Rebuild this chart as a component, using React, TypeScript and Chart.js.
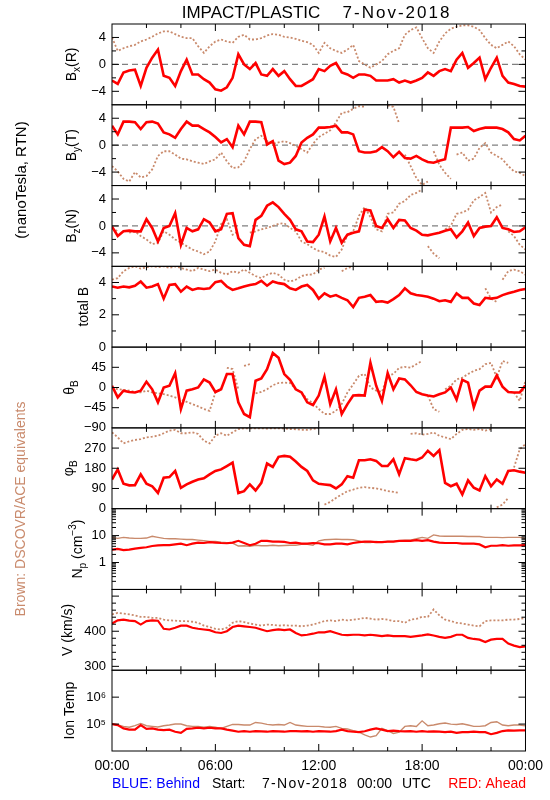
import React, { useEffect, useRef } from 'react';
import { Chart, registerables } from 'chart.js';

Chart.register(...registerables);

// ---------- time axis (20-minute samples) ----------
const TIMES = ["00:00","00:20","00:40","01:00","01:20","01:40","02:00","02:20","02:40","03:00","03:20","03:40","04:00","04:20","04:40","05:00","05:20","05:40","06:00","06:20","06:40","07:00","07:20","07:40","08:00","08:20","08:40","09:00","09:20","09:40","10:00","10:20","10:40","11:00","11:20","11:40","12:00","12:20","12:40","13:00","13:20","13:40","14:00","14:20","14:40","15:00","15:20","15:40","16:00","16:20","16:40","17:00","17:20","17:40","18:00","18:20","18:40","19:00","19:20","19:40","20:00","20:20","20:40","21:00","21:20","21:40","22:00","22:20","22:40","23:00","23:20","23:40","24:00"];

const X_TICKS = [0, 2, 4, 6, 8, 10, 12, 14, 16, 18, 20, 22, 24];
const X_LABEL_HOURS = [0, 6, 12, 18, 24];
const X_LABEL_TEXT = ["00:00", "06:00", "12:00", "18:00", "00:00"];

// ---------- series: RED = Ahead, BROWN = DSCOVR/ACE ----------
const BX_AHEAD = [-2.4,-2.9,-1.2,-0.9,-0.8,-3.2,-0.5,1.0,2.2,-1.7, -2.0,-3.2,-1.0,0.7,-1.5,-1.5,-2.2,-2.7,-3.7,-3.9, -3.4,-2.0,1.5,0.0,-0.7,0.2,-1.5,-1.7,-0.7,-1.7, -1.0,-2.2,-3.2,-3.2,-2.7,-2.2,-0.7,-1.0,-0.2,0.2, -1.2,-1.5,-2.0,-1.5,-1.5,-1.7,-2.4,-2.4,-2.4,-2.2, -2.7,-2.4,-2.7,-2.4,-2.0,-1.2,-1.7,-1.0,-0.7,-1.0, 0.7,1.7,-0.5,0.2,1.0,-2.2,-0.5,1.0,-1.7,-2.7, -2.9,-3.2,-3.3];
const BX_DSCOVR = [4.0,2.0,2.4,2.7,2.9,3.4,3.7,4.1,4.6,4.9, 4.9,4.5,4.1,3.9,3.9,2.7,1.7,2.7,3.4,3.7, 3.4,3.2,4.1,4.4,3.7,3.7,3.9,4.3,4.5,4.4, 4.1,4.0,3.8,3.5,3.3,2.9,1.7,3.2,2.4,2.0, 1.7,2.2,2.9,0.5,0.0,-0.5,0.0,0.5,1.5,2.0, 2.4,4.4,5.1,5.5,3.9,2.4,1.7,3.4,4.6,5.3, 5.6,5.8,5.8,5.6,5.1,3.9,2.9,2.4,2.9,3.4, 2.7,1.5,0.7];

const BY_AHEAD = [2.9,1.6,3.5,3.5,3.4,2.4,3.4,3.5,3.2,1.9, 1.6,1.1,2.4,3.5,2.9,2.9,2.4,1.9,1.2,0.4, 0.9,-0.3,2.9,1.6,3.5,3.5,3.4,0.1,0.6,-2.3, -2.8,-2.6,-1.6,0.4,1.1,1.6,2.6,2.6,2.7,2.9, 1.9,1.9,1.6,-0.9,-1.1,-1.1,-0.9,-0.3,-0.9,-1.8, -1.0,-1.9,-2.0,-1.6,-2.1,-2.5,-2.6,-2.3,-2.1,2.6, 2.6,2.6,2.7,2.1,2.4,2.6,2.6,2.6,2.4,1.9, 0.9,0.7,1.4];
const BY_DSCOVR = [-3.1,-3.9,-5.0,-5.4,-4.0,-4.8,-4.6,-3.6,-1.6,-0.9, -0.9,-1.4,-2.0,-2.1,-2.4,-2.6,-2.8,-2.4,-2.1,-1.1, -2.4,-3.4,-3.3,-2.4,-0.6,0.9,1.4,0.6,0.2,0.4, 0.6,0.3,-0.1,-0.6,-1.1,0.2,1.2,1.7,2.2,3.4, 4.8,4.9,5.4,5.8,5.7,null,null,null,5.9,5.7, 3.2,-1.4,-3.1,-4.9,-5.9,-5.4,-0.9,-2.9,-4.1,-5.0, -1.4,-1.1,-2.3,-2.0,-0.4,0.3,-1.1,-1.6,-2.1,-3.1, -3.9,-4.1,-4.6];

const BZ_AHEAD = [-0.1,-1.5,-0.8,-0.7,-0.8,-0.8,1.0,-0.3,-2.3,-0.3, 0.0,1.9,-2.8,-0.3,-0.8,-0.5,1.0,0.5,-0.8,-0.5, 1.8,1.9,-1.8,-2.8,-3.0,0.9,1.5,3.0,3.5,2.8, 1.8,0.9,-0.5,-0.8,-2.3,-2.4,-1.3,1.4,-2.3,-0.3, -2.5,-1.3,-1.0,-0.8,2.4,2.3,0.0,-0.3,1.0,-0.3, 0.9,0.8,-0.3,-0.7,-1.3,-1.4,-1.2,-1.0,-0.7,-0.5, -1.7,-0.8,0.5,-1.5,-0.3,-0.1,0.0,1.3,-0.3,-0.5, -0.9,-0.8,-0.2];
const BZ_DSCOVR = [-0.3,-0.8,2.3,-1.0,-0.8,-1.5,-2.0,-2.7,-2.5,-0.8, -1.3,-2.0,-2.5,-3.0,-3.5,-3.8,-4.2,-3.8,-2.3,0.3, 1.0,-1.3,-0.8,3.7,-1.0,-0.8,-0.5,-0.3,0.0,0.3, 0.4,-0.3,-0.8,-2.3,-2.7,-3.3,-3.7,-3.9,-4.4,-4.6, -3.5,-1.3,-0.8,1.5,2.8,1.3,-0.5,-0.8,1.8,2.0, 3.3,3.7,4.6,4.9,5.4,-3.0,-4.1,-4.8,-0.5,0.0, 1.8,2.0,2.4,3.8,4.3,4.9,2.0,2.8,3.2,-0.8, -1.5,-2.8,-3.5];

const BT_AHEAD = [3.75,3.68,3.75,3.7,3.8,4.06,3.68,3.75,3.9,3.0, 3.85,3.9,3.43,3.75,3.54,3.64,3.6,3.64,4.02,4.1, 3.75,3.54,3.64,3.75,3.85,3.9,4.1,3.8,4.06,3.96, 3.9,3.64,3.54,3.75,3.85,3.54,3.0,3.33,3.12,3.22, 3.05,2.9,2.48,3.05,3.12,3.22,2.8,2.84,2.76,2.97, 3.22,3.64,3.33,3.22,3.18,3.12,3.0,2.84,2.9,2.8, 3.33,3.05,3.05,2.7,2.6,3.05,3.0,3.05,3.22,3.33, 3.43,3.54,3.6];
const BT_DSCOVR = [4.17,4.27,4.7,4.9,5.0,4.86,4.95,5.0,4.95,5.0, 4.9,5.0,4.9,4.8,4.7,4.9,4.8,4.7,4.8,4.6, 4.5,4.7,4.6,4.8,4.6,4.4,4.27,4.48,4.6,4.48, 4.17,4.06,4.17,4.4,4.48,4.5,4.8,4.9,null,null, 4.7,4.9,5.0,null,null,null,null,null,null,null, null,null,null,null,null,null,null,null,null,null, null,null,null,null,null,3.64,3.0,2.8,4.17,4.7, 4.8,4.7,4.48];

const THETA_AHEAD = [4,-22,-7,-10,-11,-7,13,-4,-33,0, 4,32,-48,-7,-4,0,18,11,-10,-4, 30,30,-33,-59,-66,15,20,41,77,66, 30,17,-4,-11,-33,-39,-18,24,-37,-4, -59,-37,-18,-17,-18,55,4,-30,32,-4, 20,18,5,-10,-15,-18,-20,-15,-11,0, -27,17,11,-44,-7,2,2,27,2,-10, -11,-11,4];
const THETA_DSCOVR = [0,-4,-5,-7,-10,-11,-7,-11,-13,-15, -18,-22,-27,-32,-37,-42,-48,-52,-11,-4, 44,41,-4,48,52,-13,-10,-4,5,10, 11,10,-4,-11,-26,-35,-48,-59,-59,-52, -37,-11,7,26,30,0,-7,-10,26,30, 44,46,44,52,59,-18,-48,-54,-4,4, 18,22,30,37,41,52,55,22,59,55, -11,-30,15];

const PHI_AHEAD = [130,175,111,104,105,153,111,100,70,138, 141,168,93,108,120,130,135,153,168,175, 190,205,70,78,108,81,115,201,186,231, 235,231,210,186,168,126,111,108,105,90, 108,145,138,216,216,220,213,190,190,220, 153,225,220,216,228,258,235,261,115,100, 111,63,126,93,81,145,100,130,111,168, 171,165,160];
const PHI_DSCOVR = [340,318,291,300,306,310,318,321,325,336, 348,351,336,336,340,333,303,291,325,336, 325,340,355,358,358,358,358,357,358,358, 357,355,354,351,351,355,358,18,30,48, 63,78,85,93,96,93,90,85,78,75, 70,null,333,336,330,333,340,325,318,310, 333,351,355,351,355,348,355,6,18,48, 183,265,288];

const NP_AHEAD = [3.0,3.2,2.9,3.0,3.3,3.5,3.7,4.1,4.3,4.4, 4.4,4.7,5.0,4.4,5.0,5.5,5.3,5.7,5.5,5.3, 5.2,5.5,6.4,5.3,4.4,5.0,6.4,6.4,6.0,6.0, 5.8,5.3,5.5,5.0,5.0,5.3,5.2,4.7,4.7,5.0, 5.0,4.7,5.3,5.7,6.0,6.0,5.7,5.7,6.0,6.0, 6.4,6.4,6.4,6.8,6.4,6.8,6.0,5.5,5.3,5.3, 5.3,5.0,5.0,5.0,4.7,3.7,4.2,4.2,4.4,4.2, 4.3,4.3,4.4];
const NP_DSCOVR = [8.6,7.9,8.6,8.1,7.9,7.9,8.1,9.4,8.6,7.9, 7.6,7.6,7.4,7.2,7.2,6.8,6.4,6.0,6.0,5.7, 5.5,5.3,4.1,4.2,4.0,4.4,4.2,4.2,4.4,4.2, 4.3,4.4,4.4,4.7,4.7,4.4,6.4,7.0,7.2,7.4, 7.2,7.2,7.0,6.4,5.5,5.5,6.0,5.7,6.0,6.0, 6.4,6.8,6.8,7.6,8.6,7.9,10.6,9.7,9.4,9.4, 9.4,9.4,9.2,9.2,9.2,8.6,8.6,8.6,8.4,8.6, 8.6,8.6,7.9];

const V_AHEAD = [422,431,433,430,429,419,429,431,430,407, 405,410,416,416,410,407,405,403,397,395, 400,412,416,414,412,410,405,400,403,405, 403,405,395,388,390,393,397,397,400,395, 390,389,390,390,388,390,388,386,388,386, 386,386,384,386,388,391,388,384,381,384, 390,390,381,378,376,369,376,378,378,365, 359,355,357];
const V_DSCOVR = [448,452,450,448,445,441,441,438,438,433, 431,430,429,429,427,424,416,412,407,405, 410,424,429,426,422,419,416,419,418,416, 417,416,416,414,416,419,424,429,431,429, 433,431,433,435,438,436,433,435,433,429, 429,424,433,435,441,441,462,445,433,429, 424,422,419,416,414,429,431,431,431,433, 433,435,438];

const T_AHEAD = [1.0e5,9.2e4,6.9e4,6.2e4,6.2e4,9.2e4,6.6e4,6.9e4,6.2e4,6.0e4, 6.2e4,5.2e4,4.7e4,6.6e4,6.9e4,7.3e4,6.9e4,7.3e4,6.9e4,6.9e4, 6.2e4,5.7e4,5.2e4,5.5e4,5.2e4,5.5e4,5.4e4,5.2e4,5.5e4,5.4e4, 5.2e4,5.5e4,5.5e4,5.4e4,5.5e4,5.2e4,5.5e4,5.4e4,5.2e4,5.5e4, 6.2e4,5.5e4,5.2e4,5.0e4,5.4e4,6.2e4,6.9e4,6.2e4,5.5e4,5.7e4, 5.5e4,5.4e4,5.5e4,5.2e4,5.5e4,5.2e4,5.4e4,5.2e4,5.0e4,5.2e4, 4.7e4,5.0e4,5.0e4,5.2e4,5.0e4,5.0e4,4.2e4,4.7e4,5.5e4,5.8e4, 5.7e4,5.8e4,5.8e4];
const T_DSCOVR = [1.0e5,9.2e4,8.2e4,7.6e4,8.7e4,1.06e5,8.7e4,8.2e4,7.8e4,8.7e4, 9.2e4,1.0e5,1.0e5,8.7e4,8.2e4,8.2e4,7.6e4,8.2e4,7.6e4,6.9e4, 8.2e4,9.7e4,9.7e4,9.2e4,9.2e4,1.15e5,1.09e5,9.7e4,9.2e4,9.7e4, 9.2e4,1.15e5,9.2e4,8.7e4,8.2e4,8.2e4,8.2e4,7.8e4,7.6e4,8.2e4, 6.9e4,6.6e4,5.7e4,5.0e4,4.0e4,3.3e4,3.7e4,6.9e4,5.7e4,4.5e4, 5.0e4,8.2e4,8.7e4,8.2e4,1.32e5,8.7e4,9.2e4,1.03e5,1.09e5,1.0e5, 9.7e4,1.03e5,9.2e4,8.2e4,8.2e4,8.7e4,1.15e5,1.22e5,9.2e4,8.7e4, 9.2e4,9.2e4,8.7e4];

// ---------- axis ticks ----------
const B_TICKS = [-6, -4, -2, 0, 2, 4, 6];
const B_MAJOR = [-6, -4, 0, 4, 6];
const B_LABELS = [-4, 0, 4];
const B_LABEL_TEXT = ["\u22124", "0", "4"];
const BT_TICKS = [0, 1, 2, 3, 4, 5];
const BT_MAJOR = [0, 2, 4];
const BT_LABELS = [0, 2, 4];
const BT_LABEL_TEXT = ["0", "2", "4"];
const THETA_TICKS = [-90, -45, 0, 45, 90];
const THETA_LABELS = [-90, -45, 0, 45];
const THETA_LABEL_TEXT = ["\u221290", "\u221245", "0", "45"];
const PHI_TICKS = [0, 90, 180, 270, 360];
const PHI_LABELS = [0, 90, 180, 270];
const PHI_LABEL_TEXT = ["0", "90", "180", "270"];
const NP_TICKS = [0.1,0.2,0.3,0.4,0.5,0.6,0.7,0.8,0.9,1,2,3,4,5,6,7,8,9,10,20,30,40,50,60,70,80,90,100];
const NP_MAJOR = [0.1, 1, 10, 100];
const NP_LABELS = [1, 10];
const NP_LABEL_TEXT = ["1", "10"];
const V_TICKS = [300,320,340,360,380,400,420,440,460,480,500];
const V_MAJOR = [300, 400, 500];
const V_LABELS = [300, 400];
const V_LABEL_TEXT = ["300", "400"];
const T_TICKS = [1e4, 1e5, 1e6, 1e7];
const T_LABELS = [1e5, 1e6];
const T_LABEL_TEXT = ["10\u2075", "10\u2076"];

const FONT = "'Liberation Sans', Arial, sans-serif";
const NARROW = "'Liberation Sans Narrow', 'Liberation Sans', Arial, sans-serif";
const RED = '#ff0000';
const BROWN = '#c98a6c';

type Part = { t: string; k?: 'sub' | 'sup' };

const PANELS: any[] = [
  { type: 'linear', min: -6, max: 6, ticks: B_TICKS, major: B_MAJOR, labels: B_LABELS, text: B_LABEL_TEXT, ahead: BX_AHEAD, dscovr: BX_DSCOVR, zero: true, jump: 3, dash: true, titleX: 76, title: [{ t: 'B' }, { t: 'x', k: 'sub' }, { t: '(R)' }] },
  { type: 'linear', min: -6, max: 6, ticks: B_TICKS, major: B_MAJOR, labels: B_LABELS, text: B_LABEL_TEXT, ahead: BY_AHEAD, dscovr: BY_DSCOVR, zero: true, jump: 3, dash: true, titleX: 76, title: [{ t: 'B' }, { t: 'y', k: 'sub' }, { t: '(T)' }] },
  { type: 'linear', min: -6, max: 6, ticks: B_TICKS, major: B_MAJOR, labels: B_LABELS, text: B_LABEL_TEXT, ahead: BZ_AHEAD, dscovr: BZ_DSCOVR, zero: true, jump: 3, dash: true, titleX: 76, title: [{ t: 'B' }, { t: 'z', k: 'sub' }, { t: '(N)' }] },
  { type: 'linear', min: 0, max: 5, ticks: BT_TICKS, major: BT_MAJOR, labels: BT_LABELS, text: BT_LABEL_TEXT, ahead: BT_AHEAD, dscovr: BT_DSCOVR, zero: false, jump: 1.2, dash: true, titleX: 88, title: [{ t: 'total B' }] },
  { type: 'linear', min: -90, max: 90, ticks: THETA_TICKS, major: THETA_TICKS, labels: THETA_LABELS, text: THETA_LABEL_TEXT, ahead: THETA_AHEAD, dscovr: THETA_DSCOVR, zero: false, jump: 45, dash: true, titleX: 74, title: [{ t: '\u03b8' }, { t: 'B', k: 'sub' }] },
  { type: 'linear', min: 0, max: 360, ticks: PHI_TICKS, major: PHI_TICKS, labels: PHI_LABELS, text: PHI_LABEL_TEXT, ahead: PHI_AHEAD, dscovr: PHI_DSCOVR, zero: false, jump: 120, dash: true, titleX: 73, title: [{ t: '\u03c6' }, { t: 'B', k: 'sub' }] },
  { type: 'logarithmic', min: 0.1, max: 100, ticks: NP_TICKS, major: NP_MAJOR, labels: NP_LABELS, text: NP_LABEL_TEXT, ahead: NP_AHEAD, dscovr: NP_DSCOVR, zero: false, jump: 0, dash: false, titleX: 82, title: [{ t: 'N' }, { t: 'p', k: 'sub' }, { t: ' (cm' }, { t: '\u22123', k: 'sup' }, { t: ')' }] },
  { type: 'linear', min: 289, max: 519, ticks: V_TICKS, major: V_MAJOR, labels: V_LABELS, text: V_LABEL_TEXT, ahead: V_AHEAD, dscovr: V_DSCOVR, zero: false, jump: 0, dash: true, titleX: 72, title: [{ t: 'V (km/s)' }] },
  { type: 'logarithmic', min: 1e4, max: 1e7, ticks: T_TICKS, major: T_TICKS, labels: T_LABELS, text: T_LABEL_TEXT, ahead: T_AHEAD, dscovr: T_DSCOVR, zero: false, jump: 0, dash: false, titleX: 74, title: [{ t: 'Ion Temp' }] },
];

const HOURS = TIMES.map((t) => {
  const [h, m] = t.split(':').map(Number);
  return h + m / 60;
});

function drawRotated(ctx: CanvasRenderingContext2D, parts: Part[], bx: number, cy: number, size: number, color: string) {
  ctx.save();
  ctx.translate(bx, cy);
  ctx.rotate(-Math.PI / 2);
  ctx.fillStyle = color;
  ctx.textAlign = 'left';
  ctx.textBaseline = 'alphabetic';
  const f = (p: Part) => `${p.k ? Math.round(size * 0.72) : size}px ${FONT}`;
  let total = 0;
  for (const p of parts) { ctx.font = f(p); total += ctx.measureText(p.t).width; }
  let x = -total / 2;
  for (const p of parts) {
    ctx.font = f(p);
    const dy = p.k === 'sub' ? size * 0.3 : p.k === 'sup' ? -size * 0.45 : 0;
    ctx.fillText(p.t, x, dy);
    x += ctx.measureText(p.t).width;
  }
  ctx.restore();
}

const panelPlugin = {
  id: 'panelDecor',
  beforeDatasetsDraw(chart: any) {
    const { ctx, chartArea: a } = chart;
    PANELS.forEach((p, i) => {
      if (!p.zero) return;
      const y = chart.scales['y' + i].getPixelForValue(0);
      ctx.save();
      ctx.strokeStyle = '#808080';
      ctx.lineWidth = 1.2;
      ctx.setLineDash([6, 4]);
      ctx.beginPath();
      ctx.moveTo(a.left, y);
      ctx.lineTo(a.right, y);
      ctx.stroke();
      ctx.restore();
    });
  },
  afterDraw(chart: any) {
    const { ctx, chartArea: a } = chart;
    const xs = chart.scales.x;
    ctx.save();
    ctx.strokeStyle = '#000';
    ctx.lineWidth = 1;
    ctx.setLineDash([]);
    PANELS.forEach((p, i) => {
      const s = chart.scales['y' + i];
      const top = s.top;
      const bot = s.bottom;
      ctx.strokeRect(a.left, top, a.right - a.left, bot - top);
      ctx.beginPath();
      p.ticks.forEach((v: number) => {
        const y = s.getPixelForValue(v);
        if (y <= top + 0.5 || y >= bot - 0.5) return;
        const len = p.major.includes(v) ? 7 : 4;
        ctx.moveTo(a.left, y); ctx.lineTo(a.left + len, y);
        ctx.moveTo(a.right, y); ctx.lineTo(a.right - len, y);
      });
      X_TICKS.forEach((h) => {
        const x = xs.getPixelForValue(h);
        if (x <= a.left + 0.5 || x >= a.right - 0.5) return;
        const len = X_LABEL_HOURS.includes(h) ? 7 : 4;
        ctx.moveTo(x, top); ctx.lineTo(x, top + len);
        ctx.moveTo(x, bot); ctx.lineTo(x, bot - len);
      });
      ctx.stroke();
      drawRotated(ctx, p.title, p.titleX, (top + bot) / 2, 14, '#000');
    });

    // left side group labels
    drawRotated(ctx, [{ t: '(nanoTesla, RTN)' }], 26, 180, 15, '#000');
    drawRotated(ctx, [{ t: 'Brown: DSCOVR/ACE equivalents' }], 25, 509, 14, BROWN);

    // title
    ctx.fillStyle = '#000';
    ctx.textBaseline = 'alphabetic';
    ctx.textAlign = 'center';
    ctx.font = `17px ${FONT}`;
    ctx.fillText('IMPACT/PLASTIC', 251, 18);
    (ctx as any).letterSpacing = '2px';
    ctx.fillText('7-Nov-2018', 397, 18);
    (ctx as any).letterSpacing = '0px';

    // footer
    ctx.font = `14px ${FONT}`;
    ctx.textAlign = 'left';
    ctx.fillStyle = '#0000ff';
    ctx.fillText('BLUE: Behind', 112, 788);
    ctx.fillStyle = '#000';
    ctx.fillText('Start:', 212, 788);
    (ctx as any).letterSpacing = '1.3px';
    ctx.fillText('7-Nov-2018', 262, 788);
    (ctx as any).letterSpacing = '0px';
    ctx.fillText('00:00', 357, 788);
    ctx.fillText('UTC', 402, 788);
    ctx.textAlign = 'right';
    ctx.fillStyle = RED;
    ctx.fillText('RED: Ahead', 526, 788);
    ctx.restore();
  },
};

export default function App() {
  const ref = useRef<HTMLCanvasElement>(null);

  useEffect(() => {
    const canvas = ref.current;
    if (!canvas) return;

    const scales: any = {
      x: {
        type: 'linear',
        position: 'bottom',
        min: 0,
        max: 24,
        grid: { display: false, drawTicks: false },
        border: { display: false },
        ticks: {
          autoSkip: false,
          maxRotation: 0,
          padding: 7,
          color: '#000',
          font: { family: FONT, size: 14 },
          callback: (v: number) => {
            const k = X_LABEL_HOURS.indexOf(v);
            return k >= 0 ? X_LABEL_TEXT[k] : '';
          },
        },
        afterBuildTicks: (s: any) => { s.ticks = X_TICKS.map((v) => ({ value: v })); },
        afterFit: (s: any) => { s.height = 49; },
      },
    };

    const datasets: any[] = [];
    PANELS.forEach((p, i) => {
      const id = 'y' + i;
      const plasma = p.type === 'logarithmic' || i === 7;
      scales[id] = {
        type: p.type,
        position: 'left',
        stack: 'panels',
        stackWeight: 1,
        weight: PANELS.length - i,
        min: p.min,
        max: p.max,
        grid: { display: false, drawTicks: false },
        border: { display: false },
        ticks: {
          autoSkip: false,
          padding: 6,
          color: '#000',
          font: { family: NARROW, size: 13 },
          callback: (v: number) => {
            const k = p.labels.indexOf(v);
            return k >= 0 ? p.text[k] : '';
          },
        },
        afterBuildTicks: (s: any) => { s.ticks = p.ticks.map((v: number) => ({ value: v })); },
        afterFit: (s: any) => { s.width = 112; },
      };
      datasets.push({
        label: 'Ahead ' + i,
        yAxisID: id,
        data: p.ahead.map((v: number | null, k: number) => ({ x: HOURS[k], y: v })),
        borderColor: RED,
        backgroundColor: RED,
        borderWidth: plasma ? 2.2 : 2.6,
        pointRadius: 0,
        tension: 0,
        order: 0,
      });
      datasets.push({
        label: 'DSCOVR ' + i,
        yAxisID: id,
        data: p.dscovr.map((v: number | null, k: number) => ({ x: HOURS[k], y: v })),
        borderColor: BROWN,
        backgroundColor: BROWN,
        borderWidth: p.dash ? 1.8 : 1.4,
        borderDash: p.dash ? [2, 2] : [],
        pointRadius: 0,
        tension: 0,
        order: 1,
        segment: {
          borderColor: (c: any) =>
            p.jump && Math.abs(c.p1.parsed.y - c.p0.parsed.y) > p.jump ? 'rgba(0,0,0,0)' : undefined,
        },
      });
    });

    const chart = new Chart(canvas, {
      type: 'line',
      data: { datasets },
      options: {
        responsive: false,
        animation: false,
        devicePixelRatio: 1,
        events: [],
        layout: { padding: { top: 24, right: 24, bottom: 0, left: 0 } },
        plugins: { legend: { display: false }, tooltip: { enabled: false }, title: { display: false } },
        scales,
      } as any,
      plugins: [panelPlugin as any],
    });

    return () => chart.destroy();
  }, []);

  return (
    <div style={{ position: 'fixed', left: 0, top: 0, width: 550, height: 800, background: '#fff' }}>
      <canvas ref={ref} width={550} height={800} style={{ display: 'block' }} />
    </div>
  );
}
